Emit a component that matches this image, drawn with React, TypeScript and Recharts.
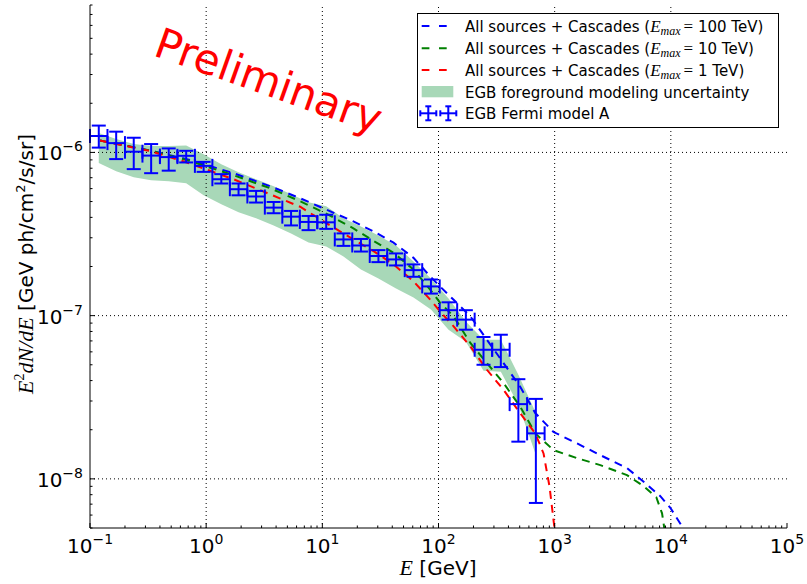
import React from "react";
import {
  ComposedChart,
  Line,
  Area,
  Scatter,
  ErrorBar,
  XAxis,
  YAxis,
  ReferenceLine,
} from "recharts";

// flux values below are in units of 1e-6 GeV ph/cm^2/s/sr
const UNIT = 1e-6;

// Fermi EGB energy bins (GeV)
const binEdges = [
  0.1, 0.1414, 0.2, 0.2828, 0.4, 0.5657, 0.8, 1.131, 1.6, 2.263, 3.2, 4.525,
  6.4, 9.051, 12.8, 18.1, 25.6, 36.2, 51.2, 72.4, 102.4, 144.8, 204.8, 289.6,
  409.6, 579.2, 819.2,
];
const binCenters = [
  0.119, 0.168, 0.238, 0.336, 0.476, 0.673, 0.951, 1.35, 1.9, 2.69, 3.81, 5.38,
  7.61, 10.8, 15.2, 21.5, 30.4, 43.1, 60.9, 86.1, 122, 172, 244, 344, 487, 689,
];
const fermiFlux = [
  1.26, 1.14, 1.01, 0.956, 0.936, 0.953, 0.827, 0.685, 0.595, 0.537, 0.459,
  0.404, 0.375, 0.373, 0.293, 0.269, 0.232, 0.221, 0.19, 0.151, 0.108, 0.0945,
  0.0618, 0.0618, 0.0287, 0.019,
];
const fermiUpper = [
  1.46, 1.34, 1.23, 1.125, 1.058, 1.023, 0.875, 0.736, 0.645, 0.581, 0.497,
  0.438, 0.408, 0.415, 0.319, 0.295, 0.252, 0.2405, 0.206, 0.1665, 0.1207,
  0.108, 0.074, 0.0764, 0.0408, 0.0309,
];
const fermiLower = [
  1.07, 0.91, 0.79, 0.746, 0.773, 0.868, 0.76, 0.645, 0.546, 0.493, 0.424,
  0.357, 0.334, 0.34, 0.2675, 0.247, 0.2127, 0.203, 0.173, 0.1365, 0.0945,
  0.082, 0.05, 0.0484, 0.0169, 0.00712,
];

// foreground modeling uncertainty band
const bandUpper = [
  1.314, 1.207, 1.125, 1.093, 1.093, 1.101, 0.976, 0.847, 0.757, 0.685, 0.621,
  0.554, 0.495, 0.468, 0.395, 0.352, 0.31, 0.269, 0.2148, 0.1688, 0.1272,
  0.0919, 0.0712, 0.0712, 0.0434, 0.0253,
];
const bandLower = [
  0.86, 0.767, 0.705, 0.676, 0.666, 0.648, 0.546, 0.481, 0.43, 0.395, 0.357,
  0.319, 0.281, 0.2655, 0.2305, 0.1917, 0.1688, 0.1466, 0.129, 0.1089, 0.082,
  0.0692, 0.0459, 0.0453, 0.0284, 0.014,
];

// cascade models
const emax100E = [
  0.122, 0.329, 0.681, 1.72, 3.55, 6.44, 10.9, 18.5, 27.6, 41, 60.9, 84.8, 103,
  135, 188, 261, 363, 505, 681, 978, 1556, 2471, 4195, 5832, 8120, 9900, 12800,
];
const emax100 = [
  1.182, 1.026, 0.91, 0.746, 0.621, 0.524, 0.445, 0.378, 0.328, 0.28, 0.226,
  0.174, 0.151, 0.125, 0.099, 0.0712, 0.0512, 0.0367, 0.0253, 0.01936, 0.0165,
  0.01398, 0.01163, 0.00961, 0.00783, 0.00665, 0.00498,
];
const emax10E = [
  0.122, 0.329, 0.681, 1.72, 3.55, 6.44, 10.9, 18.5, 27.6, 41, 60.9, 84.8, 103,
  135, 188, 261, 363, 505, 681, 978, 1556, 2471, 4195, 5832, 7500, 8400, 8790,
];
const emax10 = [
  1.182, 1.026, 0.897, 0.725, 0.6035, 0.502, 0.4205, 0.3425, 0.287, 0.2428,
  0.1917, 0.1445, 0.1202, 0.099, 0.068, 0.0512, 0.0386, 0.0277, 0.019, 0.015,
  0.0134, 0.01214, 0.01054, 0.00902, 0.00772, 0.00615, 0.00498,
];
const emax1E = [
  0.122, 0.329, 0.681, 1.72, 3.55, 6.44, 10.9, 18.5, 27.6, 41, 60.9, 84.8, 103,
  135, 188, 261, 363, 505, 681, 802, 904, 978, 1002,
];
const emax1 = [
  1.182, 1.019, 0.868, 0.685, 0.554, 0.4645, 0.3677, 0.293, 0.2484, 0.2058,
  0.1624, 0.1254, 0.1063, 0.0859, 0.0648, 0.0466, 0.0351, 0.02523, 0.019,
  0.01432, 0.00893, 0.00557, 0.00484,
];

const xDecades = [0.1, 1, 10, 100, 1000, 10000, 100000];
const yDecades = [1e-8, 1e-7, 1e-6];

const minorTicks = (lo: number, hi: number) => {
  const out: number[] = [];
  for (let k = Math.floor(Math.log10(lo)); k <= Math.ceil(Math.log10(hi)); k++) {
    for (let m = 1; m <= 9; m++) {
      const v = Number((m * Math.pow(10, k)).toPrecision(6));
      if (v >= lo * 0.999 && v <= hi * 1.001) out.push(v);
    }
  }
  return out;
};
const xTicks = minorTicks(0.1, 1e5);
const yTicks = minorTicks(5e-9, 8e-6);

const fermiRows = binCenters.map((e, i) => ({
  e,
  v: fermiFlux[i] * UNIT,
  ex: [e - binEdges[i], binEdges[i + 1] - e],
  ey: [(fermiFlux[i] - fermiLower[i]) * UNIT, (fermiUpper[i] - fermiFlux[i]) * UNIT],
  band: [bandLower[i] * UNIT, bandUpper[i] * UNIT],
}));
const toRows = (es: number[], vs: number[]) => es.map((e, i) => ({ e, v: vs[i] * UNIT }));
const rows100 = toRows(emax100E, emax100);
const rows10 = toRows(emax10E, emax10);
const rows1 = toRows(emax1E, emax1);

const SANS = "DejaVu Sans";
const MATH = "Liberation Serif";

const isDecade = (v: number) => Math.abs(Math.log10(v) - Math.round(Math.log10(v))) < 1e-6;
const expText = (v: number) => {
  const p = Math.round(Math.log10(v));
  return p < 0 ? "\u2212" + -p : String(p);
};

const makeTick = (side: string) => (props: any) => {
  const { x, y, payload } = props;
  const v = payload.value;
  const major = isDecade(v);
  const len = major ? 5 : 2.5;
  let line = null;
  let label = null;
  if (side === "bottom") {
    line = <line x1={x} x2={x} y1={y} y2={y - len} stroke="#000" />;
    if (major)
      label = (
        <text x={x} y={y + 25} textAnchor="middle" fontSize={20} fontFamily={SANS} fill="#000">
          10<tspan dy={-9} fontSize={14}>{expText(v)}</tspan>
        </text>
      );
  } else if (side === "top") {
    line = <line x1={x} x2={x} y1={y} y2={y + len} stroke="#000" />;
  } else if (side === "left") {
    line = <line x1={x} x2={x + len} y1={y} y2={y} stroke="#000" />;
    if (major)
      label = (
        <text x={x - 7} y={y + 8} textAnchor="end" fontSize={20} fontFamily={SANS} fill="#000">
          10<tspan dy={-9} fontSize={14}>{expText(v)}</tspan>
        </text>
      );
  } else {
    line = <line x1={x} x2={x - len} y1={y} y2={y} stroke="#000" />;
  }
  return (
    <g>
      {line}
      {label}
    </g>
  );
};

const NoMarker = () => <g />;

const EmaxText = ({ val }: { val: string }) => (
  <>
    All sources + Cascades (
    <tspan fontFamily={MATH} fontStyle="italic" fontSize={17}>E</tspan>
    <tspan fontFamily={MATH} fontStyle="italic" fontSize={12} dy={3}>max</tspan>
    <tspan fontFamily={MATH} fontSize={17} dy={-3} dx={3}>=</tspan>{" "}
    {val})
  </>
);

const Overlay = () => {
  const rowY = [26, 48.3, 70, 92, 113.3];
  const dashed = ["#0000ff", "#008000", "#ff0000"];
  const emax = ["100 TeV", "10 TeV", "1 TeV"];
  return (
    <svg
      width={807}
      height={584}
      style={{ position: "absolute", left: 0, top: 0, pointerEvents: "none" }}
    >
      <text
        x={152}
        y={55}
        transform="rotate(19.5 152 55)"
        fontSize={42}
        fontFamily={SANS}
        fill="#ff0000"
      >
        Preliminary
      </text>

      <text transform="translate(33 264) rotate(-90)" textAnchor="middle" fontSize={20} fill="#000">
        <tspan fontFamily={MATH} fontStyle="italic" fontSize={22}>E</tspan>
        <tspan fontFamily={MATH} fontSize={14} dy={-9}>2</tspan>
        <tspan fontFamily={MATH} fontStyle="italic" fontSize={22} dy={9}>dN/dE</tspan>
        <tspan fontFamily={SANS}> [GeV ph/cm</tspan>
        <tspan fontFamily={SANS} fontSize={13} dy={-8}>2</tspan>
        <tspan fontFamily={SANS} dy={8}>/s/sr]</tspan>
      </text>

      <text x={438} y={575} textAnchor="middle" fontSize={20} fill="#000">
        <tspan fontFamily={MATH} fontStyle="italic" fontSize={22}>E</tspan>
        <tspan fontFamily={SANS}> [GeV]</tspan>
      </text>

      <rect x={417.5} y={13.5} width={361} height={114} fill="#fff" stroke="#000" />
      {dashed.map((c, i) => (
        <g key={c}>
          <line
            x1={421.7}
            x2={446.7}
            y1={rowY[i]}
            y2={rowY[i]}
            stroke={c}
            strokeWidth={2}
            strokeDasharray="7.7 9.6"
          />
          <text x={465} y={rowY[i] + 5.5} fontSize={15} fontFamily={SANS} fill="#000">
            <EmaxText val={emax[i]} />
          </text>
        </g>
      ))}
      <rect x={421.7} y={86} width={31.6} height={11.3} fill="#a8d8b8" />
      <text x={465} y={rowY[3] + 5.5} fontSize={15} fontFamily={SANS} fill="#000">
        EGB foreground modeling uncertainty
      </text>
      {[428.3, 448.3].map((cx) => (
        <g key={cx} stroke="#0000ff" strokeWidth={2}>
          <line x1={cx - 8} x2={cx + 8} y1={rowY[4]} y2={rowY[4]} />
          <line x1={cx} x2={cx} y1={rowY[4] - 7} y2={rowY[4] + 7} />
          <line x1={cx - 3} x2={cx + 3} y1={rowY[4] - 7} y2={rowY[4] - 7} />
          <line x1={cx - 3} x2={cx + 3} y1={rowY[4] + 7} y2={rowY[4] + 7} />
          <line x1={cx - 8} x2={cx - 8} y1={rowY[4] - 3} y2={rowY[4] + 3} />
          <line x1={cx + 8} x2={cx + 8} y1={rowY[4] - 3} y2={rowY[4] + 3} />
        </g>
      ))}
      <text x={465} y={rowY[4] + 5.5} fontSize={15} fontFamily={SANS} fill="#000">
        EGB Fermi model A
      </text>
    </svg>
  );
};

const dash = "8 6";

export default function App() {
  return (
    <div
      style={{
        position: "absolute",
        left: 0,
        top: 0,
        width: 807,
        height: 584,
        background: "#fff",
      }}
    >
      <ComposedChart
        width={807}
        height={584}
        data={fermiRows}
        margin={{ top: 5, right: 20, bottom: 0, left: 0 }}
      >
        <XAxis
          dataKey="e"
          type="number"
          scale="log"
          domain={[0.1, 1e5]}
          allowDataOverflow
          ticks={xTicks}
          interval={0}
          tickLine={false}
          tickSize={0}
          tickMargin={0}
          tick={makeTick("bottom")}
          height={56}
          axisLine={{ stroke: "#000" }}
        />
        <XAxis
          xAxisId="top"
          orientation="top"
          type="number"
          scale="log"
          domain={[0.1, 1e5]}
          allowDataOverflow
          ticks={xTicks}
          interval={0}
          tickLine={false}
          tickSize={0}
          tickMargin={0}
          tick={makeTick("top")}
          height={0}
          axisLine={{ stroke: "#000" }}
        />
        <YAxis
          dataKey="v"
          type="number"
          scale="log"
          domain={[5e-9, 8e-6]}
          allowDataOverflow
          ticks={yTicks}
          interval={0}
          tickLine={false}
          tickSize={0}
          tickMargin={0}
          tick={makeTick("left")}
          width={90}
          axisLine={{ stroke: "#000" }}
        />
        <YAxis
          yAxisId="right"
          orientation="right"
          type="number"
          scale="log"
          domain={[5e-9, 8e-6]}
          allowDataOverflow
          ticks={yTicks}
          interval={0}
          tickLine={false}
          tickSize={0}
          tickMargin={0}
          tick={makeTick("right")}
          width={0}
          axisLine={{ stroke: "#000" }}
        />
        <Area
          dataKey="band"
          type="linear"
          stroke="none"
          fill="#a8d8b8"
          fillOpacity={1}
          isAnimationActive={false}
        />
        {xDecades.slice(1, -1).map((d) => (
          <ReferenceLine key={d} x={d} stroke="#000" strokeDasharray="1 3" />
        ))}
        {yDecades.map((d) => (
          <ReferenceLine key={d} y={d} stroke="#000" strokeDasharray="1 3" />
        ))}
        <Line
          data={rows100}
          dataKey="v"
          type="linear"
          stroke="#0000ff"
          strokeWidth={2}
          strokeDasharray={dash}
          dot={false}
          isAnimationActive={false}
        />
        <Line
          data={rows10}
          dataKey="v"
          type="linear"
          stroke="#008000"
          strokeWidth={2}
          strokeDasharray={dash}
          dot={false}
          isAnimationActive={false}
        />
        <Line
          data={rows1}
          dataKey="v"
          type="linear"
          stroke="#ff0000"
          strokeWidth={2}
          strokeDasharray={dash}
          dot={false}
          isAnimationActive={false}
        />
        <Scatter data={fermiRows} dataKey="v" shape={NoMarker} isAnimationActive={false}>
          <ErrorBar dataKey="ex" direction="x" stroke="#0000ff" strokeWidth={2} width={7} />
          <ErrorBar dataKey="ey" direction="y" stroke="#0000ff" strokeWidth={2} width={7} />
        </Scatter>
      </ComposedChart>
      <Overlay />
    </div>
  );
}
